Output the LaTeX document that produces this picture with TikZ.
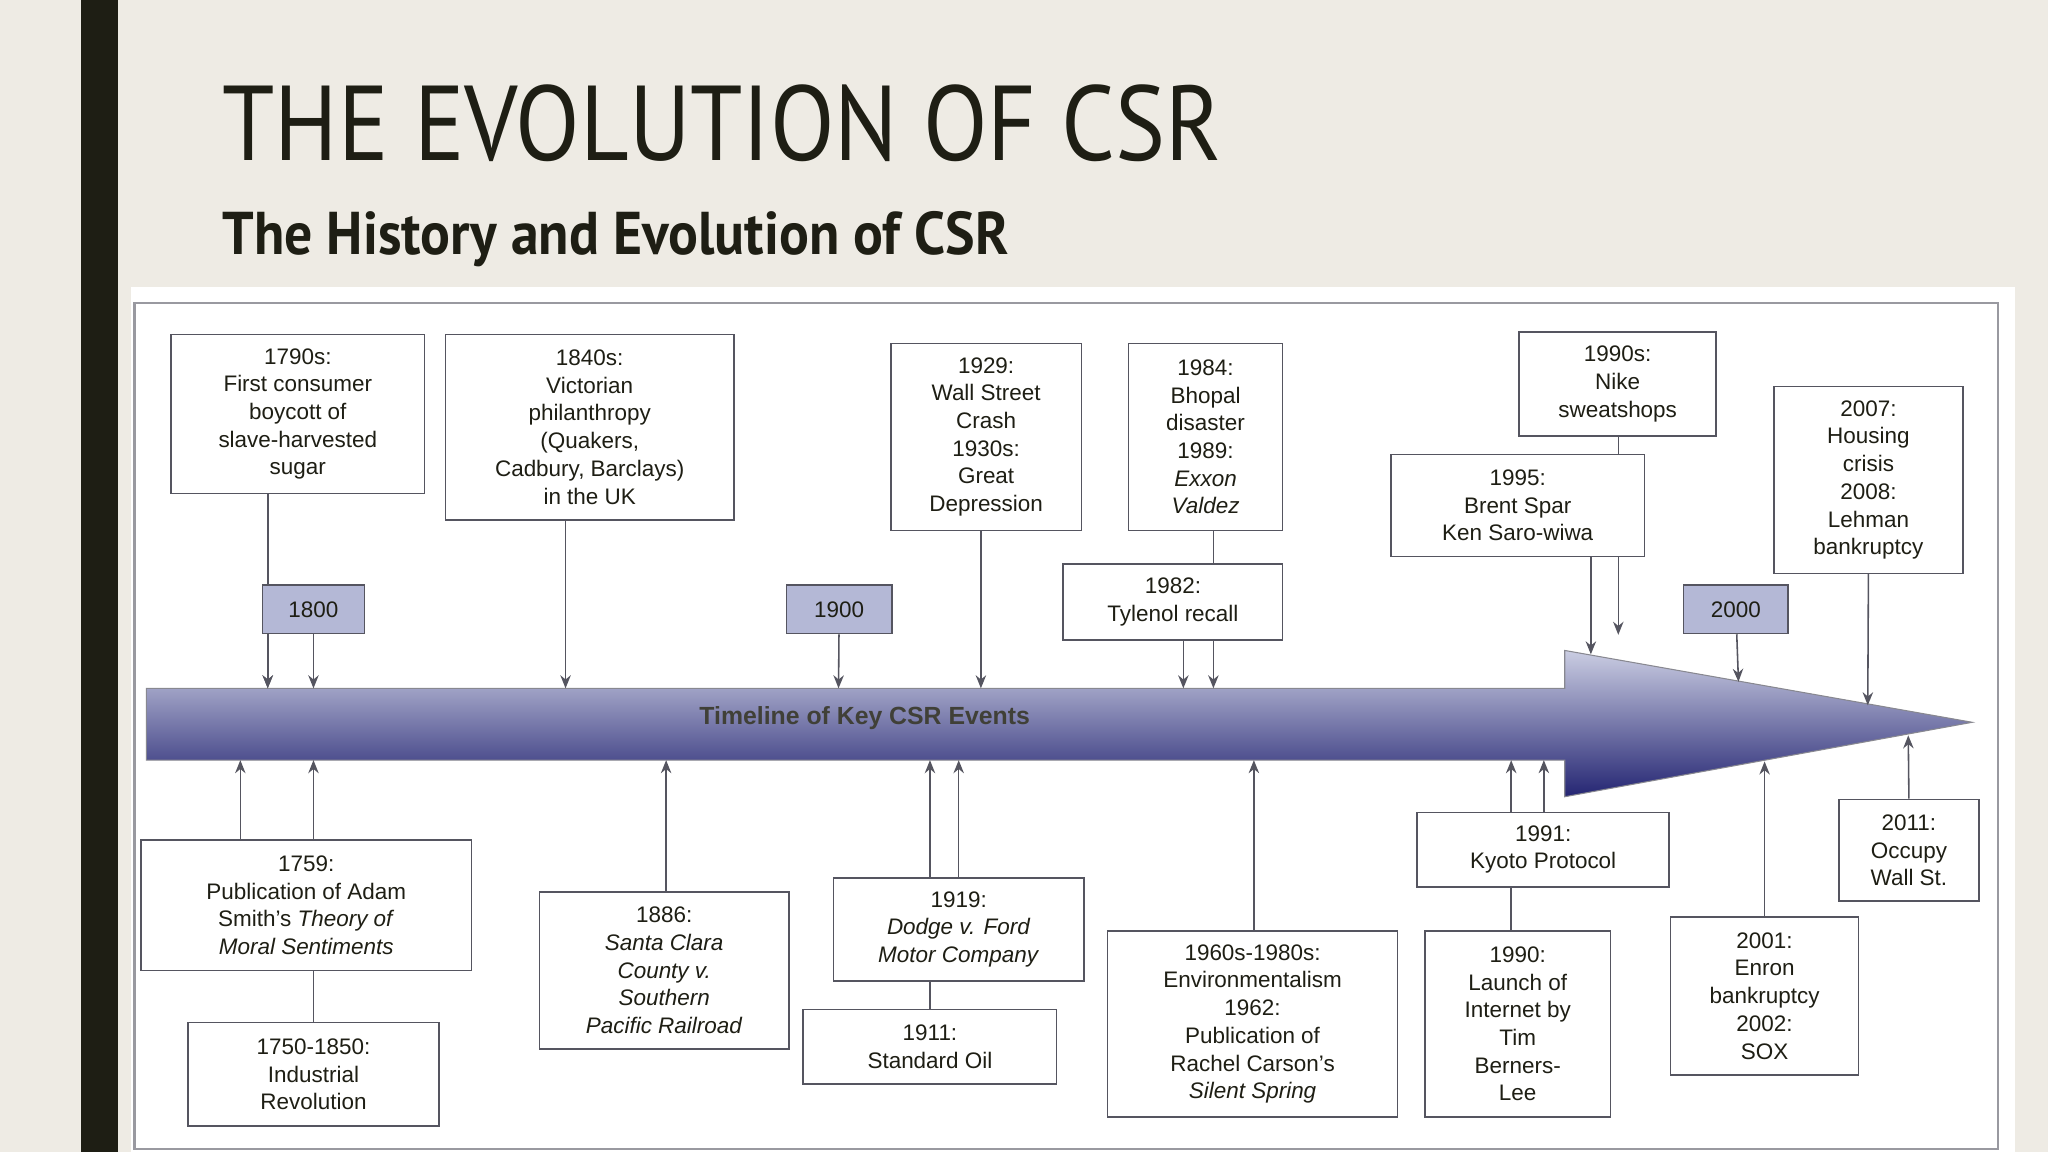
\documentclass[tikz,border=0pt]{standalone}
\usepackage{fontspec}
\setmainfont{Liberation Sans}
\newfontfamily\ttl{PT Sans}
\usetikzlibrary{arrows.meta}
\definecolor{bg}{HTML}{EEEBE4}
\definecolor{ink}{HTML}{1E1E14}
\definecolor{tag}{HTML}{B4B8D6}
\definecolor{ln}{HTML}{555560}
\tikzset{
 box/.style={draw=ln,line width=0.6pt,fill=white,align=center,inner sep=0pt,font=\fontsize{8.6pt}{10.6pt}\selectfont,text=ink},
 tagbox/.style={box,fill=tag},
 con/.style={draw=ln,line width=0.6pt},
 arr/.style={con,-{Stealth[length=5pt,width=4pt]}}
}
\newcommand{\bx}[7][box]{\node[#1,minimum width={(#5-#3)*0.5pt},minimum height={(#6-#4)*0.5pt}] (#2) at ({(#3+#5)/2},{(#4+#6)/2}) {#7};}
\begin{document}
\begin{tikzpicture}[x=0.5pt,y=-0.5pt]
\useasboundingbox (0,0) rectangle (1568,882);
\fill[bg] (0,0) rectangle (1568,882);
\fill[ink] (62,0) rectangle (90,882);
\node[anchor=south west,inner sep=0,text=ink] (title) at (170,124) {\resizebox{382.5pt}{29pt}{\ttl THE EVOLUTION OF CSR}};
\node[anchor=south west,inner sep=0,text=ink,yshift=-3.5pt] (sub) at (170,198) {\resizebox{301pt}{16.5pt}{\ttl\bfseries The History and Evolution of CSR}};
\fill[white] (100,220) rectangle (1543,882);
\draw[color=ln!60,line width=0.8pt] (103,232) rectangle (1530,880);
% timeline arrow
\shade[top color=tag!70!white,bottom color=blue!35!black!80!tag,draw=ln!70,line width=0.4pt]
 (112,527) -- (1198,527) -- (1198,498) -- (1510,553) -- (1198,610) -- (1198,582) -- (112,582) -- cycle;
\node[font=\bfseries\fontsize{9.5pt}{11pt}\selectfont,text=ink!85] (tl) at (662,550) {Timeline of Key CSR Events};
% top boxes
\bx{A}{131}{256}{325}{378}{1790s:\\First consumer\\boycott of\\slave-harvested\\sugar}
\bx{B}{341}{256}{562}{398}{1840s:\\Victorian\\philanthropy\\(Quakers,\\Cadbury, Barclays)\\in the UK}
\bx{C}{682}{263}{828}{406}{1929:\\Wall Street\\Crash\\1930s:\\Great\\Depression}
\bx{D}{864}{263}{982}{406}{1984:\\Bhopal\\disaster\\1989:\\\textit{Exxon}\\\textit{Valdez}}
\bx{E}{814}{432}{982}{490}{1982:\\Tylenol recall}
\bx{F}{1163}{254}{1314}{334}{1990s:\\Nike\\sweatshops}
\bx{G}{1065}{348}{1259}{426}{1995:\\Brent Spar\\Ken Saro-wiwa}
\bx{H}{1358}{296}{1503}{439}{2007:\\Housing\\crisis\\2008:\\Lehman\\bankruptcy}
\draw[arr] (205,378) -- (205,527);
\bx[tagbox]{T1}{201}{448}{279}{485}{1800}
\bx[tagbox]{T2}{602}{448}{683}{485}{1900}
\bx[tagbox]{T3}{1289}{448}{1369}{485}{2000}
% bottom boxes
\bx{I}{108}{643}{361}{743}{1759:\\Publication of Adam\\Smith's \textit{Theory of}\\\textit{Moral Sentiments}}
\bx{J}{144}{783}{336}{862}{1750-1850:\\Industrial\\Revolution}
\bx{K}{413}{683}{604}{803}{1886:\\\textit{Santa Clara}\\\textit{County v.}\\\textit{Southern}\\\textit{Pacific Railroad}}
\bx{L}{638}{672}{830}{751}{1919:\\\textit{Dodge v. Ford}\\\textit{Motor Company}}
\bx{M}{615}{773}{809}{830}{1911:\\Standard Oil}
\bx{N}{848}{713}{1070}{855}{1960s-1980s:\\Environmentalism\\1962:\\Publication of\\Rachel Carson's\\\textit{Silent Spring}}
\bx{O}{1085}{622}{1278}{679}{1991:\\Kyoto Protocol}
\bx{P}{1091}{713}{1233}{855}{1990:\\Launch of\\Internet by\\Tim\\Berners-\\Lee}
\bx{Q}{1279}{702}{1423}{823}{2001:\\Enron\\bankruptcy\\2002:\\SOX}
\bx{R}{1408}{612}{1515}{690}{2011:\\Occupy\\Wall St.}
% connectors top
\draw[arr] (205,485) -- (205,527);
\draw[arr] (T1) -- (240,527);
\draw[arr] (433,398) -- (433,527);
\draw[arr] (T2) -- (642,527);
\draw[arr] (751,406) -- (751,527);
\draw[con] (929,406) -- (929,432);
\draw[arr] (906,490) -- (906,527);
\draw[arr] (929,490) -- (929,527);
\draw[con] (1239,334) -- (1239,348);
\draw[arr] (1239,426) -- (1239,486);
\draw[arr] (1218,426) -- (1218,501);
\draw[arr] (T3) -- (1331,522);
\draw[arr] (H.south) -- (1430,540);
% connectors bottom
\draw[arr] (184,643) -- (184,582);
\draw[arr] (240,643) -- (240,582);
\draw[con] (J.north) -- (240,743);
\draw[arr] (510,683) -- (510,582);
\draw[arr] (712,672) -- (712,582);
\draw[arr] (734,672) -- (734,582);
\draw[con] (712,773) -- (712,751);
\draw[arr] (960,713) -- (960,582);
\draw[arr] (1157,622) -- (1157,582);
\draw[arr] (1182,622) -- (1182,582);
\draw[con] (1157,713) -- (1157,679);
\draw[arr] (Q.north) -- (1351,583);
\draw[arr] (R.north) -- (1461,563);
\end{tikzpicture}
\end{document}
